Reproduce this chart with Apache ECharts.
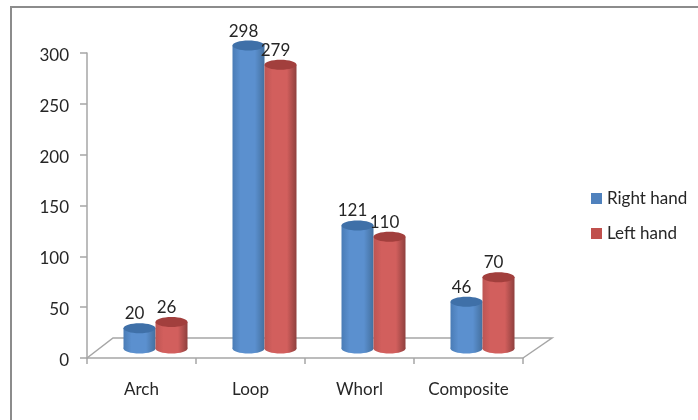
<!DOCTYPE html>
<html>
<head>
<meta charset="utf-8">
<style>
html,body{margin:0;padding:0;background:#fff}
#chart{width:698px;height:420px}
</style>
<script src="https://cdn.jsdelivr.net/npm/echarts@6/dist/echarts.min.js"></script>
</head>
<body>
<div id="chart"></div>
<script>
const categories = ['Arch', 'Loop', 'Whorl', 'Composite'];
const rightHand = [20, 298, 121, 46];
const leftHand = [26, 279, 110, 70];
const valueTicks = [0, 50, 100, 150, 200, 250, 300];

const FONT = 'Lato, "Open Sans", sans-serif';
const FONT_SIZE = 17;
const INK = '#262626';
const RULE = '#a6a6a6';

// Oblique depth of the floor: bars stand on its middle, shifted from the axis plane.
const DEPTH_X = 26, DEPTH_Y = 20;
const BAR_SHIFT_X = 14, BAR_SHIFT_Y = 9.5;
const BAR_WIDTH = 32, CAP_RY = 5;

const palettes = {
  right: {edge: '#4a7cb6', mid: '#5b90cf', dark: '#44709f', cap: '#3f70a8', legend: '#4f81bd'},
  left:  {edge: '#bd5553', mid: '#d25f5d', dark: '#8f403e', cap: '#a23f3d', legend: '#c0504d'}
};

function cylinder(values, pal, side) {
  return {
    type: 'custom',
    name: side < 0 ? 'Right hand' : 'Left hand',
    coordinateSystem: 'cartesian2d',
    data: values.map((v, i) => [i, v]),
    z: side < 0 ? 3 : 4,
    renderItem(params, api) {
      const top = api.coord([api.value(0), api.value(1)]);
      const base = api.coord([api.value(0), 0]);
      const cx = base[0] + BAR_SHIFT_X + side * BAR_WIDTH / 2;
      const yTop = top[1] - BAR_SHIFT_Y, yBase = base[1] - BAR_SHIFT_Y;
      const hw = BAR_WIDTH / 2;
      const body = new echarts.graphic.LinearGradient(0, 0, 1, 0, [
        {offset: 0, color: pal.edge},
        {offset: 0.25, color: pal.mid},
        {offset: 0.7, color: pal.mid},
        {offset: 1, color: pal.dark}
      ]);
      return {
        type: 'group',
        children: [
          {type: 'ellipse', shape: {cx: cx, cy: yBase, rx: hw, ry: CAP_RY}, style: {fill: body}},
          {type: 'rect', shape: {x: cx - hw, y: yTop, width: BAR_WIDTH, height: yBase - yTop}, style: {fill: body}},
          {type: 'ellipse', shape: {cx: cx, cy: yTop, rx: hw, ry: CAP_RY}, style: {fill: pal.cap}},
          {
            type: 'text', z2: 10,
            style: {
              x: cx - 5, y: yTop - 14.5, text: String(api.value(1)),
              fill: INK, font: FONT_SIZE + 'px ' + FONT, align: 'center', verticalAlign: 'middle'
            }
          }
        ]
      };
    }
  };
}

// Floor outline running behind the bars.
const floor = {
  type: 'custom',
  coordinateSystem: 'cartesian2d',
  silent: true,
  z: 1,
  data: [[0, 0]],
  renderItem(params, api) {
    const halfBand = api.size([1, 0])[0] / 2;
    const first = api.coord([0, 0]);
    const last = api.coord([categories.length - 1, 0]);
    const ax = first[0] - halfBand, bx = last[0] + halfBand, y = first[1];
    return {
      type: 'polyline',
      shape: {points: [
        [ax, y],
        [ax + DEPTH_X, y - DEPTH_Y],
        [bx + DEPTH_X + 3, y - DEPTH_Y],
        [bx, y]
      ]},
      style: {fill: 'none', stroke: RULE, lineWidth: 1.5}
    };
  }
};

const chart = echarts.init(document.getElementById('chart'), null, {renderer: 'canvas'});
chart.setOption({
  animation: false,
  backgroundColor: '#fff',
  graphic: [{
    type: 'polyline',
    silent: true,
    shape: {points: [[11, 420], [11, 7], [698, 7]]},
    style: {fill: 'none', stroke: '#8c8c8c', lineWidth: 2}
  }],
  legend: {
    left: 591, top: 190, padding: 0, orient: 'vertical', itemGap: 18,
    itemWidth: 11, itemHeight: 11, icon: 'rect',
    selectedMode: false,
    textStyle: {fontFamily: FONT, fontSize: FONT_SIZE, color: INK},
    data: [
      {name: 'Right hand', itemStyle: {color: palettes.right.legend}},
      {name: 'Left hand', itemStyle: {color: palettes.left.legend}}
    ]
  },
  grid: {left: 87, top: 53, width: 436, height: 305},
  xAxis: {
    type: 'category',
    data: categories,
    axisLine: {lineStyle: {color: RULE, width: 1.5}},
    axisTick: {show: true, alignWithLabel: false, length: 6, lineStyle: {color: RULE, width: 1.5}},
    axisLabel: {color: INK, fontFamily: FONT, fontSize: FONT_SIZE, margin: 23}
  },
  yAxis: {
    type: 'value',
    min: valueTicks[0],
    max: valueTicks[valueTicks.length - 1],
    interval: valueTicks[1] - valueTicks[0],
    axisLine: {show: true, lineStyle: {color: RULE, width: 1.5}},
    axisTick: {show: true, length: 7, lineStyle: {color: RULE, width: 1.5}},
    splitLine: {show: false},
    axisLabel: {
      color: INK, fontFamily: FONT, fontSize: FONT_SIZE, margin: 18,
      formatter: '{tick|{value}}',
      rich: {tick: {fontFamily: FONT, fontSize: FONT_SIZE, color: INK, padding: [5, 0, 0, 0]}}
    }
  },
  series: [
    floor,
    cylinder(rightHand, palettes.right, -1),
    cylinder(leftHand, palettes.left, 1)
  ]
});
</script>
</body>
</html>
